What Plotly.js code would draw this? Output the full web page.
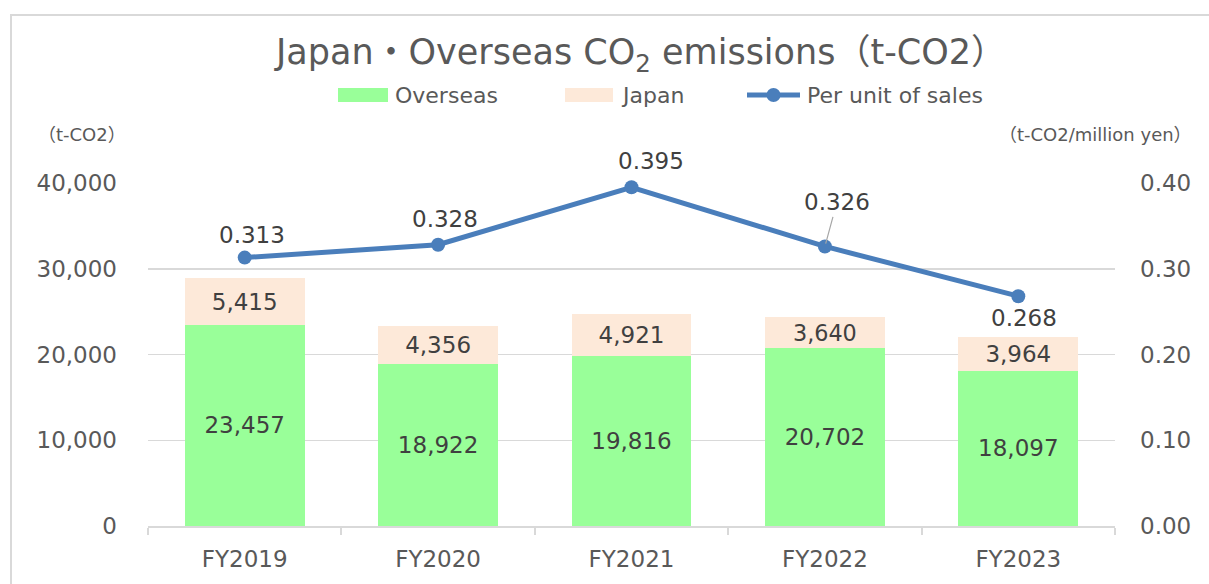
<!DOCTYPE html>
<html>
<head>
<meta charset="utf-8">
<script src="https://cdn.plot.ly/plotly-3.0.1.min.js"></script>
<style>html,body{margin:0;padding:0;background:#fff;}#chart{width:1209px;height:584px;}</style>
</head>
<body>
<div id="chart"></div>
<script>
const categories = ["FY2019", "FY2020", "FY2021", "FY2022", "FY2023"];
const overseas = [23457, 18922, 19816, 20702, 18097];
const japan = [5415, 4356, 4921, 3640, 3964];
const perUnit = [0.313, 0.328, 0.395, 0.326, 0.268];
const leftTicks = [0, 10000, 20000, 30000, 40000];
const rightTicks = [0, 0.1, 0.2, 0.3, 0.4];
const seriesNames = ["Overseas", "Japan", "Per unit of sales"];

const FONT = "DejaVu Sans, Verdana, Noto Sans CJK JP, sans-serif";
const TXT = "#595959", DARK = "#404040";
const GREEN = "#99ff99", PEACH = "#fde9d9", BLUE = "#4a7ebb", GRID = "#d9d9d9";
const fmt = v => v.toLocaleString("en-US");

// Label offsets (px) for line values, as placed in the reference
const lineLabelShift = [[7, 23], [7, 26], [19, 26], [12, 44], [6, -22]];

const W = 1209, H = 584;
const L = 148, R = 94, T = 183, B = 58;
const pw = W - L - R, ph = H - T - B;
const px2x = p => (p - L) / pw;
const px2y = p => (H - B - p) / ph;

const traces = [
  {
    type: "bar", name: seriesNames[0], x: categories, y: overseas,
    marker: {color: GREEN},
    text: overseas.map(fmt), textposition: "inside", insidetextanchor: "middle",
    textfont: {family: FONT, size: 23, color: DARK},
    hoverinfo: "skip", cliponaxis: false, showlegend: false
  },
  {
    type: "bar", name: seriesNames[1], x: categories, y: japan,
    marker: {color: PEACH},
    text: japan.map(fmt), textposition: "inside", insidetextanchor: "middle",
    textfont: {family: FONT, size: 23, color: DARK},
    hoverinfo: "skip", cliponaxis: false, showlegend: false
  },
  {
    type: "scatter", mode: "lines+markers", name: seriesNames[2],
    x: categories, y: perUnit, yaxis: "y2",
    line: {color: BLUE, width: 5},
    marker: {color: BLUE, size: 14},
    hoverinfo: "skip", cliponaxis: false, showlegend: false
  }
];

const annotations = perUnit.map((v, i) => {
  const [dx, dy] = lineLabelShift[i];
  const a = {
    xref: "x", yref: "y2", x: categories[i], y: v,
    text: v.toFixed(3),
    font: {family: FONT, size: 23, color: DARK},
    showarrow: false, xshift: dx, yshift: dy
  };
  if (i === 3) {
    a.showarrow = true; a.xshift = 0; a.yshift = 0;
    a.ax = dx; a.ay = -dy; a.arrowhead = 0; a.arrowwidth = 1.2;
    a.arrowcolor = "#a6a6a6"; a.standoff = 3;
  }
  return a;
});
annotations.push(
  {xref: "paper", yref: "paper", x: px2x(82), y: px2y(135), xanchor: "center", yanchor: "middle",
   text: "（t-CO2）", showarrow: false, font: {family: FONT, size: 18, color: TXT}},
  {xref: "paper", yref: "paper", x: px2x(1095), y: px2y(135), xanchor: "center", yanchor: "middle",
   text: "（t-CO2/million yen）", showarrow: false, font: {family: FONT, size: 18, color: TXT}}
);

// Legend (drawn as shapes + texts to match the reference's wide swatches)
const legendY = 95;
const legendItems = [
  {name: seriesNames[0], kind: "box", color: GREEN, x0: 338, x1: 388, tx: 393},
  {name: seriesNames[1], kind: "box", color: PEACH, x0: 565, x1: 613, tx: 619},
  {name: seriesNames[2], kind: "line", color: BLUE, x0: 747, x1: 800, tx: 805}
];
const shapes = [];
legendItems.forEach(it => {
  if (it.kind === "box") {
    shapes.push({type: "rect", xref: "paper", yref: "paper",
      x0: px2x(it.x0), x1: px2x(it.x1), y0: px2y(legendY + 7), y1: px2y(legendY - 7),
      fillcolor: it.color, line: {width: 0}});
  } else {
    shapes.push({type: "line", xref: "paper", yref: "paper",
      x0: px2x(it.x0), x1: px2x(it.x1), y0: px2y(legendY), y1: px2y(legendY),
      line: {color: it.color, width: 5}});
    const cx = (it.x0 + it.x1) / 2;
    shapes.push({type: "circle", xref: "paper", yref: "paper",
      x0: px2x(cx - 7), x1: px2x(cx + 7), y0: px2y(legendY + 7), y1: px2y(legendY - 7),
      fillcolor: it.color, line: {width: 0}});
  }
  annotations.push({xref: "paper", yref: "paper", x: px2x(it.tx), y: px2y(legendY),
    xanchor: "left", yanchor: "middle", text: it.name, showarrow: false,
    font: {family: FONT, size: 22, color: TXT}});
});

// Chart-area border (left and top edges visible in the reference)
shapes.push({type: "path", xref: "paper", yref: "paper",
  path: `M ${px2x(11)} ${px2y(600)} L ${px2x(11)} ${px2y(15)} L ${px2x(1230)} ${px2y(15)}`,
  line: {color: GRID, width: 2}});

const layout = {
  width: W, height: H,
  margin: {l: L, r: R, t: T, b: B, pad: 0},
  paper_bgcolor: "#ffffff", plot_bgcolor: "#ffffff",
  barmode: "stack", bargap: 0.38,
  showlegend: false,
  font: {family: FONT, color: TXT},
  title: {
    text: "Japan・Overseas CO<sub>2</sub> emissions（t-CO2）",
    font: {family: FONT, size: 35, color: TXT},
    x: 641 / W, xanchor: "center", xref: "container",
    y: 1 - 52 / H, yanchor: "middle", yref: "container"
  },
  xaxis: {
    type: "category", showgrid: false, showline: true, linecolor: GRID, linewidth: 2,
    ticks: "outside", tickson: "boundaries", ticklen: 7, tickcolor: GRID, tickwidth: 2,
    tickfont: {family: FONT, size: 23, color: TXT}, ticklabelstandoff: 11,
    fixedrange: true
  },
  yaxis: {
    range: [0, 40000], tickvals: leftTicks, tickformat: ",", showgrid: true,
    gridcolor: GRID, gridwidth: 1.5, zeroline: false, showline: false, ticks: "",
    tickfont: {family: FONT, size: 23, color: TXT}, ticklabelstandoff: 30,
    fixedrange: true
  },
  yaxis2: {
    range: [0, 0.4], tickvals: rightTicks, tickformat: ".2f", overlaying: "y", side: "right",
    showgrid: false, zeroline: false, showline: false, ticks: "",
    tickfont: {family: FONT, size: 23, color: TXT}, ticklabelstandoff: 24,
    fixedrange: true
  },
  annotations: annotations,
  shapes: shapes
};

Plotly.newPlot("chart", traces, layout, {displayModeBar: false, staticPlot: true});
</script>
</body>
</html>
